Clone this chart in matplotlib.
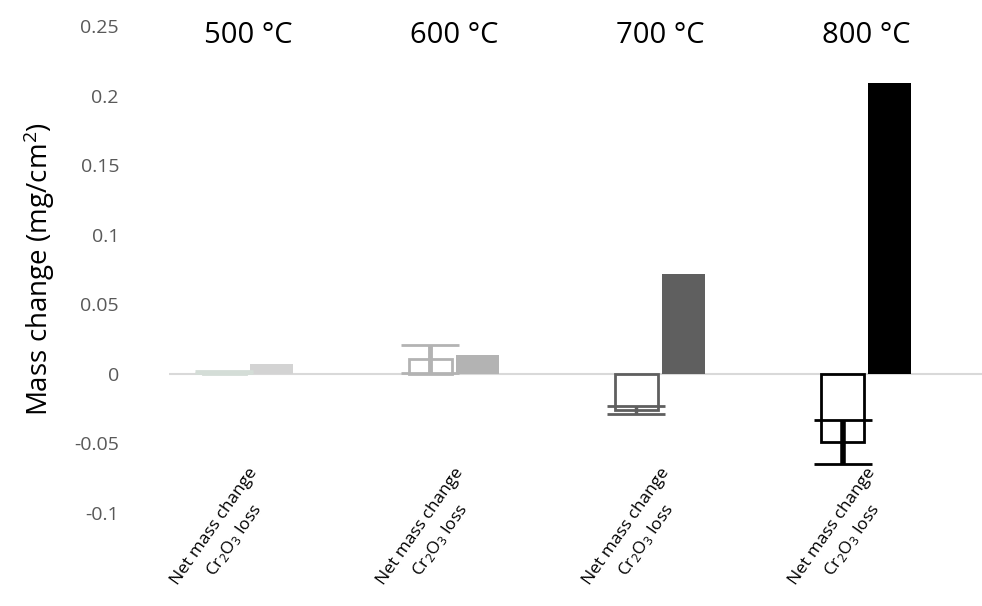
import numpy as np
import matplotlib.pyplot as plt

plt.rcParams['font.family'] = ['Open Sans', 'DejaVu Sans']
plt.rcParams['mathtext.fontset'] = 'custom'
plt.rcParams['mathtext.rm'] = 'Open Sans'
plt.rcParams['mathtext.it'] = 'Open Sans'

# data
temps = ['500 \u00b0C', '600 \u00b0C', '700 \u00b0C', '800 \u00b0C']
net_change = [0.0012, 0.0105, -0.026, -0.049]
net_err = [0.0008, 0.010, 0.003, 0.016]
cr2o3_loss = [0.007, 0.0135, 0.072, 0.209]
colors = ['#d4ddd7', '#b3b3b3', '#5f5f5f', '#000000']
loss_colors = ['#d3d3d3', '#b3b3b3', '#5f5f5f', '#000000']
err_widths = [1.0, 3.5, 2.5, 4.0]

x = np.arange(len(temps))
w = 0.209
off = 0.114

fig = plt.figure(figsize=(9.82, 6.06), dpi=100)
ax = fig.add_axes([169 / 982, 93 / 606, 1 - 169 / 982, 487 / 606])

for i in range(len(temps)):
    ax.bar(x[i] - off, net_change[i], width=w, facecolor='white',
           edgecolor=colors[i], linewidth=2, zorder=3)
    ax.errorbar(x[i] - off, net_change[i], yerr=net_err[i], fmt='none',
                ecolor=colors[i], elinewidth=err_widths[i], capsize=21,
                capthick=2, zorder=4)
    ax.bar(x[i] + off, cr2o3_loss[i], width=w, color=loss_colors[i], zorder=3)

ax.axhline(0, color='#d9d9d9', linewidth=1.5, zorder=2)

ax.set_xlim(-0.383, 3.563)
ax.set_ylim(-0.1, 0.25)
ax.set_yticks([-0.1, -0.05, 0, 0.05, 0.1, 0.15, 0.2, 0.25])
ax.set_yticklabels(['-0.1', '-0.05', '0', '0.05', '0.1', '0.15', '0.2', '0.25'])
ax.tick_params(axis='y', length=0, pad=36, labelsize=14, labelcolor='#595959')
ax.set_xticks([])
for s in ax.spines.values():
    s.set_visible(False)

ax.set_ylabel('Mass change (mg/cm$^2$)', fontsize=20, labelpad=12)

for i in range(len(temps)):
    ax.text(x[i], 0.2435, temps[i], ha='center', va='center', fontsize=21,
            clip_on=False)
    # two-line category label, rotated like the spreadsheet axis
    ax.text(x[i], 0.098, 'Net mass change\nCr$_2$O$_3$ loss',
            transform=ax.get_xaxis_transform(), rotation=55,
            rotation_mode='anchor', ha='right', va='top',
            multialignment='center', fontsize=12.5, linespacing=1.45,
            clip_on=False)

fig.savefig('out.png', dpi=100)
